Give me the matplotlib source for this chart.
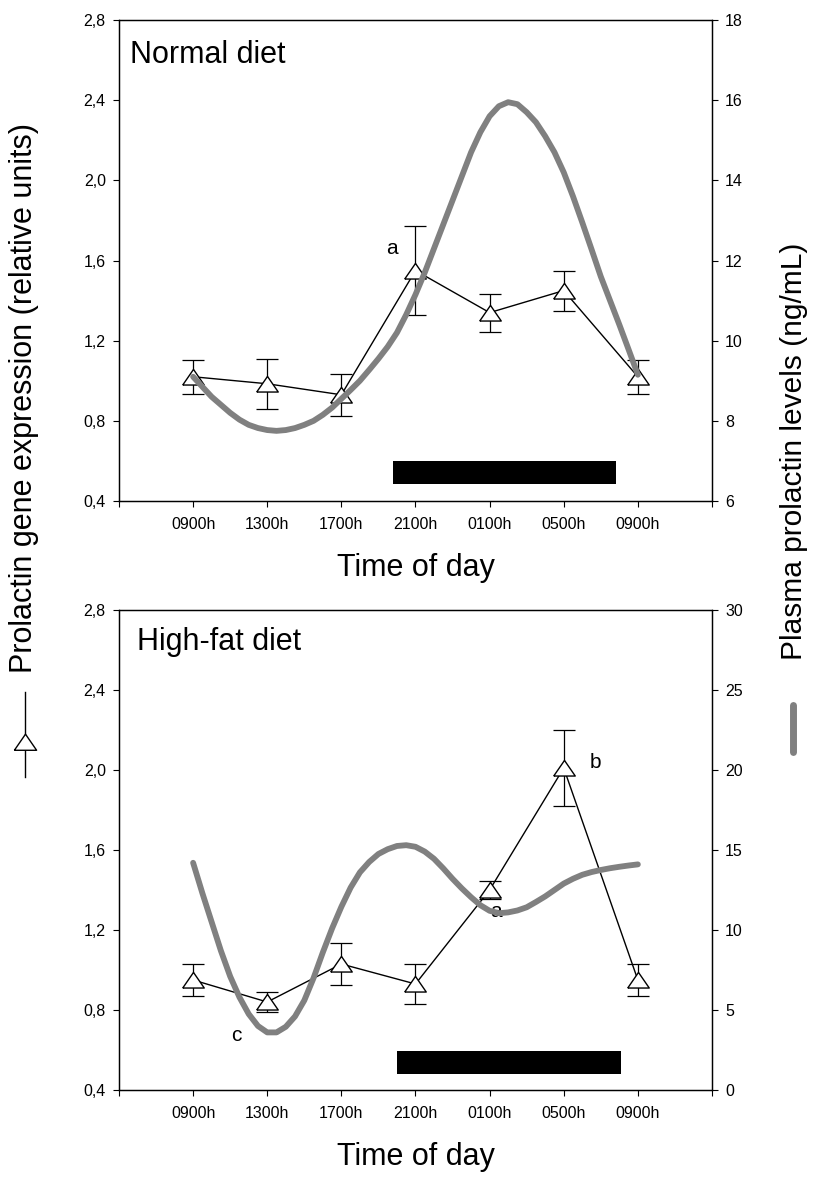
"""Prolactin gene expression and plasma prolactin over the day, two diets."""

import matplotlib

matplotlib.use("Agg")
import matplotlib.pyplot as plt
from matplotlib.lines import Line2D

plt.rcParams["font.family"] = ["Liberation Sans", "DejaVu Sans"]

# x positions: 0..6 are the sampling times, -1 and 7 are the padding ticks
time_labels = ["0900h", "1300h", "1700h", "2100h", "0100h", "0500h", "0900h"]
time_pos = [0, 1, 2, 3, 4, 5, 6]

# Normal diet: gene expression (mean, sem)
normal_expr = [1.02, 0.985, 0.93, 1.55, 1.34, 1.45, 1.02]
normal_err = [0.085, 0.125, 0.105, 0.22, 0.095, 0.10, 0.085]

# High-fat diet: gene expression (mean, sem)
hfd_expr = [0.95, 0.84, 1.03, 0.93, 1.40, 2.01, 0.95]
hfd_err = [0.08, 0.05, 0.105, 0.10, 0.045, 0.19, 0.08]

# plasma prolactin curves, every 1/8 of a step
curve_x = [0.0, 0.125, 0.25, 0.375, 0.5, 0.625, 0.75, 0.875,
           1.0, 1.125, 1.25, 1.375, 1.5, 1.625, 1.75, 1.875,
           2.0, 2.125, 2.25, 2.375, 2.5, 2.625, 2.75, 2.875,
           3.0, 3.125, 3.25, 3.375, 3.5, 3.625, 3.75, 3.875,
           4.0, 4.125, 4.25, 4.375, 4.5, 4.625, 4.75, 4.875,
           5.0, 5.125, 5.25, 5.375, 5.5, 5.625, 5.75, 5.875, 6.0]
normal_plasma = [9.1, 8.85, 8.6, 8.4, 8.2, 8.03, 7.9, 7.82,
                 7.77, 7.75, 7.77, 7.82, 7.9, 8.0, 8.15, 8.33,
                 8.55, 8.77, 9.0, 9.27, 9.55, 9.85, 10.2, 10.65,
                 11.15, 11.7, 12.3, 12.9, 13.5, 14.1, 14.7, 15.2,
                 15.6, 15.85, 15.95, 15.9, 15.7, 15.45, 15.1, 14.7,
                 14.2, 13.6, 12.95, 12.28, 11.6, 11.0, 10.4, 9.78, 9.15]
hfd_plasma = [14.2, 12.3, 10.5, 8.7, 7.1, 5.8, 4.75, 4.0,
              3.6, 3.6, 3.95, 4.6, 5.6, 7.0, 8.6, 10.1,
              11.45, 12.65, 13.6, 14.25, 14.75, 15.05, 15.25, 15.3,
              15.2, 14.9, 14.45, 13.85, 13.2, 12.6, 12.05, 11.55,
              11.2, 11.05, 11.1, 11.22, 11.42, 11.75, 12.1, 12.5,
              12.9, 13.2, 13.45, 13.62, 13.75, 13.86, 13.95, 14.03, 14.1]

# dark phase bars (x start, x end, y low, y high in expression units)
normal_dark = (2.69, 5.71, 0.485, 0.60)
hfd_dark = (2.75, 5.77, 0.48, 0.595)

# significance letters (x, y in expression units)
normal_letters = [("a", 2.68, 1.66)]
hfd_letters = [("b", 5.43, 2.035), ("a", 4.08, 1.29), ("c", 0.58, 0.67)]

left_ticks = [0.4, 0.8, 1.2, 1.6, 2.0, 2.4, 2.8]
left_ticklabels = ["0,4", "0,8", "1,2", "1,6", "2,0", "2,4", "2,8"]
normal_right_ticks = [6, 8, 10, 12, 14, 16, 18]
hfd_right_ticks = [0, 5, 10, 15, 20, 25, 30]

GREY = "#808080"
TRI = [(-1.0, -0.7), (1.0, -0.7), (0.0, 0.75), (-1.0, -0.7)]


def draw_panel(ax, expr, err, plasma, right_ticks, dark, letters, title, tx, ty):
    ax.errorbar(time_pos, expr, yerr=err, fmt="none", ecolor="black",
                elinewidth=0.9, capsize=8, capthick=0.9, zorder=2)
    ax.plot(time_pos, expr, color="black", lw=1.0, marker=TRI, ms=15.5,
            mfc="white", mec="black", mew=1.0, zorder=3)
    x0, x1, y0, y1 = dark
    ax.broken_barh([(x0, x1 - x0)], (y0, y1 - y0), facecolors="black")
    for txt, lx, ly in letters:
        ax.text(lx, ly, txt, fontsize=15, ha="center", va="center", zorder=1)

    ax.set_xlim(-1, 7)
    ax.set_ylim(0.4, 2.8)
    ax.set_xticks(range(-1, 8))
    ax.set_xticklabels([""] + time_labels + [""])
    ax.set_yticks(left_ticks)
    ax.set_yticklabels(left_ticklabels)
    ax.tick_params(direction="out", length=4.5, width=0.8, labelsize=11.5, pad=5)
    ax.tick_params(axis="x", pad=7)
    ax.set_xlabel("Time of day", fontsize=22, labelpad=15)
    ax.text(tx, ty, title, transform=ax.transAxes, fontsize=22,
            ha="left", va="baseline")

    ax2 = ax.twinx()
    ax2.plot(curve_x, plasma, color=GREY, lw=4.2, solid_capstyle="round",
             solid_joinstyle="round")
    ax2.set_ylim(right_ticks[0], right_ticks[-1])
    ax2.set_yticks(right_ticks)
    ax2.tick_params(direction="out", length=4.5, width=0.8, labelsize=11.5, pad=5)
    for a in (ax, ax2):
        for s in a.spines.values():
            s.set_linewidth(0.9)
    return ax2


fig = plt.figure(figsize=(8.15, 11.78), dpi=100)
ax_top = fig.add_axes([0.146, 0.5747, 0.7276, 0.4083])
ax_bot = fig.add_axes([0.146, 0.0747, 0.7276, 0.4075])

draw_panel(ax_top, normal_expr, normal_err, normal_plasma, normal_right_ticks,
           normal_dark, normal_letters, "Normal diet", 0.019, 0.911)
draw_panel(ax_bot, hfd_expr, hfd_err, hfd_plasma, hfd_right_ticks,
           hfd_dark, hfd_letters, "High-fat diet", 0.030, 0.917)

# shared axis labels with their legend keys
fig.text(0.0295, 0.4287, "Prolactin gene expression (relative units)",
         rotation=90, fontsize=22, ha="center", va="bottom")
fig.add_artist(Line2D([0.0307, 0.0307], [1 - 692 / 1178, 1 - 777 / 1178],
                      transform=fig.transFigure, color="black", lw=1.0))
fig.add_artist(Line2D([0.0307], [1 - 742 / 1178], transform=fig.transFigure,
                      marker=TRI, ms=16, mfc="white", mec="black", mew=1.0))

fig.text(0.974, 1 - 660 / 1178, "Plasma prolactin levels (ng/mL)",
         rotation=90, fontsize=21.5, ha="center", va="bottom")
fig.add_artist(Line2D([0.973, 0.973], [1 - 705 / 1178, 1 - 752 / 1178],
                      transform=fig.transFigure, color=GREY, lw=5,
                      solid_capstyle="round"))

fig.savefig("out.png", dpi=100)
